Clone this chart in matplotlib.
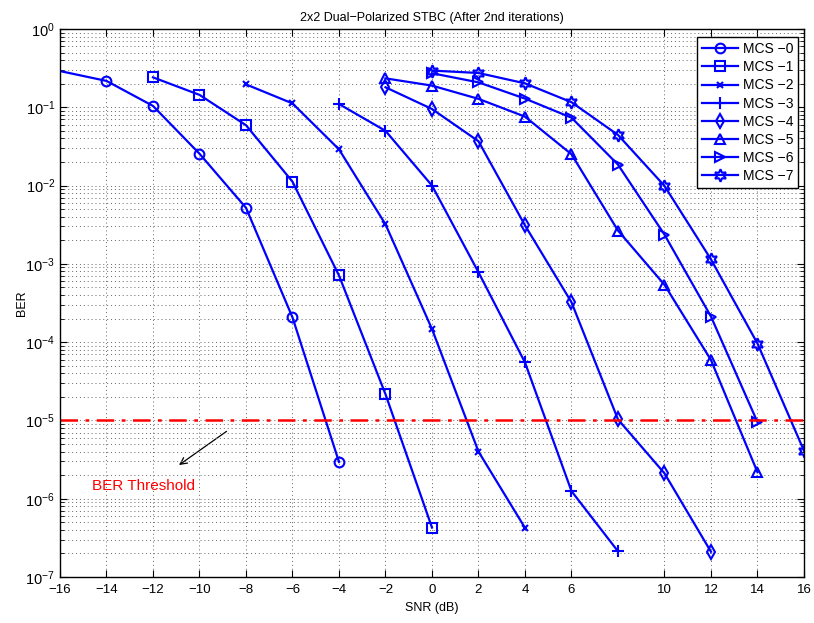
import numpy as np
import matplotlib
matplotlib.use("Agg")
import matplotlib.pyplot as plt
from matplotlib.patches import FancyArrowPatch
from matplotlib.ticker import LogLocator, FixedLocator, NullFormatter

plt.rcParams['font.family'] = ['Liberation Sans', 'DejaVu Sans']
plt.rcParams['mathtext.fontset'] = 'custom'
plt.rcParams['mathtext.rm'] = 'Liberation Sans'
plt.rcParams['mathtext.it'] = 'Liberation Sans:italic'

# SNR (dB) and BER values
snr_0 = [-16, -14, -12, -10, -8, -6, -4]
ber_0 = [0.29, 0.217, 0.104, 0.0255, 0.0052, 2.07e-4, 2.95e-6]

snr_1 = [-12, -10, -8, -6, -4, -2, 0]
ber_1 = [0.241, 0.144, 0.059, 0.0112, 7.1e-4, 2.16e-5, 4.28e-7]

snr_2 = [-8, -6, -4, -2, 0, 2, 4]
ber_2 = [0.196, 0.112, 0.029, 0.0032, 1.47e-4, 4.0e-6, 4.25e-7]

snr_3 = [-4, -2, 0, 2, 4, 6, 8]
ber_3 = [0.110, 0.050, 0.0100, 7.8e-4, 5.5e-5, 1.25e-6, 2.13e-7]

snr_4 = [-2, 0, 2, 4, 6, 8, 10, 12]
ber_4 = [0.18, 0.095, 0.0368, 0.0031, 3.23e-4, 1.03e-5, 2.11e-6, 2.1e-7]

snr_5 = [-2, 0, 2, 4, 6, 8, 10, 12, 14]
ber_5 = [0.234, 0.189, 0.128, 0.0759, 0.0251, 0.00266, 5.4e-4, 5.9e-5, 2.18e-6]

snr_6 = [0, 2, 4, 6, 8, 10, 12, 14]
ber_6 = [0.272, 0.208, 0.129, 0.0736, 0.0185, 0.00236, 2.12e-4, 9.5e-6]

snr_7 = [0, 2, 4, 6, 8, 10, 12, 14, 16]
ber_7 = [0.294, 0.274, 0.202, 0.116, 0.0443, 0.0099, 0.00114, 9.6e-5, 4.1e-6]

labels = ['MCS \u22120', 'MCS \u22121', 'MCS \u22122', 'MCS \u22123',
          'MCS \u22124', 'MCS \u22125', 'MCS \u22126', 'MCS \u22127']
# last one is a 6-point star like matlab's hexagram
markers = ['o', 's', 'x', '+', 'd', '^', '>', (6, 1, 0)]
xticks = [-16, -14, -12, -10, -8, -6, -4, -2, 0, 2, 4, 6, 10, 12, 14, 16]
threshold = 1e-5

fig = plt.figure(figsize=(8.14, 6.23), dpi=100)
ax = fig.add_axes([0.0737, 0.0738, 0.914, 0.8797])

curves = [(snr_0, ber_0), (snr_1, ber_1), (snr_2, ber_2), (snr_3, ber_3),
          (snr_4, ber_4), (snr_5, ber_5), (snr_6, ber_6), (snr_7, ber_7)]

for i, (x, y) in enumerate(curves):
    mk = markers[i]
    ms = 7
    if mk == 'x':
        ms = 5
    if mk == '+':
        ms = 8
    if i == 7:
        ms = 9
    every = slice(1, None) if i == 0 else None
    ax.semilogy(x, y, color='blue', lw=1.6, marker=mk, ms=ms, mfc='none',
                mec='blue', mew=1.5, label=labels[i], markevery=every)

# BER threshold line
ax.axhline(threshold, color='red', ls=(0, (7, 3, 1.5, 3)), lw=1.8)
arrow = FancyArrowPatch((-8.74, 7.6e-6), (-10.98, 2.57e-6), arrowstyle='->',
                        mutation_scale=12, color='black', lw=0.9)
ax.add_patch(arrow)
ax.text(-14.64, 1.45e-6, 'BER Threshold', color='red', fontsize=11,
        va='center', ha='left')

ax.set_xlim(-16, 16)
ax.set_ylim(1e-7, 1)
ax.xaxis.set_major_locator(FixedLocator(xticks))
ax.yaxis.set_major_locator(LogLocator(base=10, numticks=10))
ax.yaxis.set_minor_locator(LogLocator(base=10, subs=np.arange(2, 10), numticks=10))
ax.yaxis.set_minor_formatter(NullFormatter())

ax.grid(True, which='major', ls=(0, (1, 3)), color='#666666', lw=0.7)
ax.grid(True, which='minor', axis='y', ls=(0, (1, 3)), color='#666666', lw=0.7)
ax.tick_params(which='both', direction='in', top=True, right=True)
ax.tick_params(axis='x', labelsize=9.5, pad=5)
ax.tick_params(axis='y', labelsize=10.5)
ax.tick_params(which='major', length=5)
ax.tick_params(which='minor', length=3)
for sp in ax.spines.values():
    sp.set_linewidth(1.0)

ax.set_xlabel('SNR (dB)', fontsize=9, labelpad=4)
ax.set_ylabel('BER', fontsize=9, labelpad=-2)
ax.set_title('2x2 Dual\u2212Polarized STBC (After 2nd iterations)', fontsize=9, pad=6)

leg = ax.legend(loc='upper right', bbox_to_anchor=(0.992, 0.985), fontsize=10,
                handlelength=2.6, labelspacing=0.3, borderpad=0.35,
                handletextpad=0.3, fancybox=False, framealpha=1,
                edgecolor='black', borderaxespad=0)
leg.get_frame().set_linewidth(1.0)

fig.savefig('out.png', dpi=100)
